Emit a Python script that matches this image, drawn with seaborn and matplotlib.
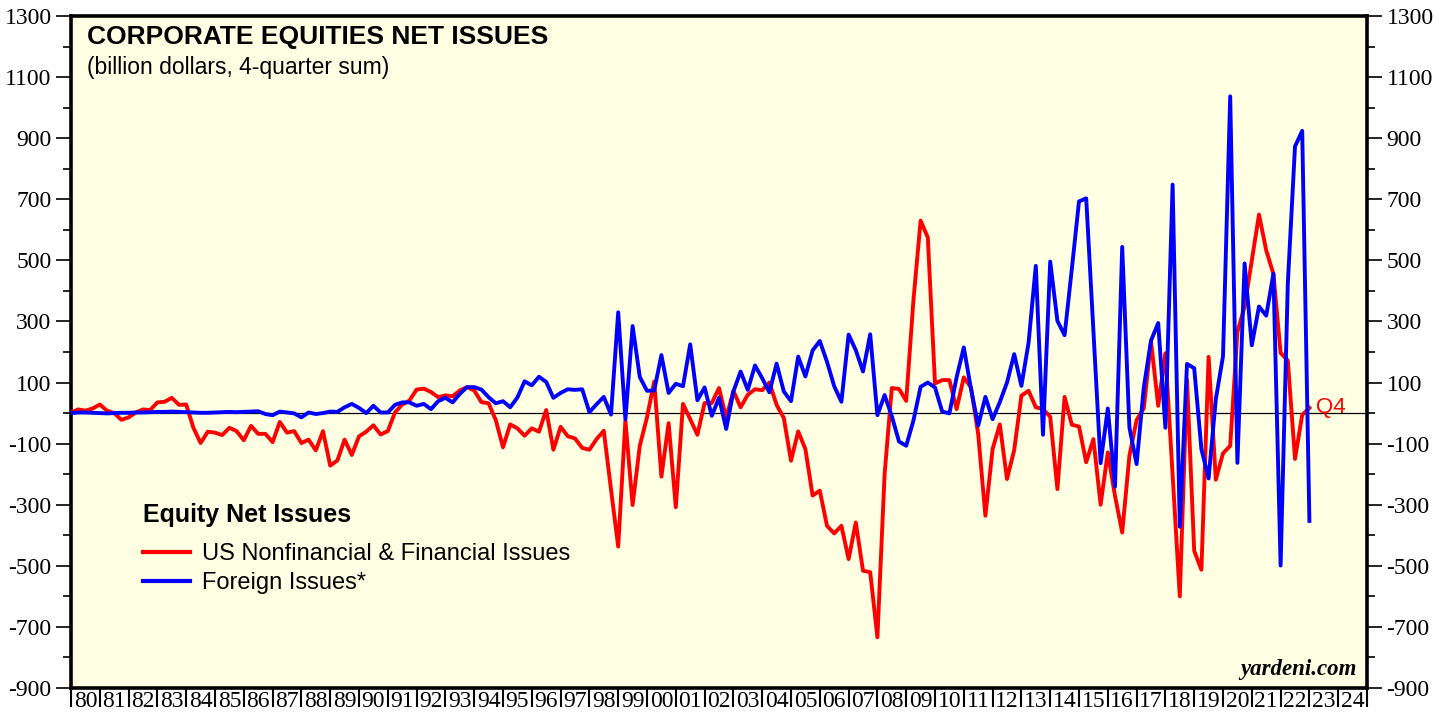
import matplotlib
matplotlib.use('Agg')
import matplotlib.pyplot as plt
import numpy as np
import pandas as pd
import seaborn as sns
from matplotlib.lines import Line2D
from matplotlib.ticker import MultipleLocator, FixedLocator, NullFormatter

plt.rcParams['figure.dpi'] = 100
plt.rcParams['savefig.dpi'] = 100
plt.rcParams['axes.unicode_minus'] = False

# quarterly, 1979Q4 .. 2022Q4, billion dollars, 4-quarter sum
us_issues = [
    2, 12, 8, 15, 28, 8, 0, -22, -14, 2, 12, 10, 35, 37, 50, 27, 28, -48, -98, -61,
    -64, -72, -48, -59, -89, -42, -68, -68, -95, -29, -64, -59, -98, -87, -122, -59, -172, -155, -87, -137,
    -76, -61, -40, -70, -59, 2, 28, 41, 77, 80, 69, 52, 58, 55, 74, 85, 74, 36, 32, -23,
    -112, -37, -50, -74, -50, -61, 10, -120, -45, -76, -83, -114, -120, -85, -58, -250, -437, -25, -301, -107,
    -14, 103, -208, -33, -308, 30, -20, -71, 33, 33, 82, -17, 73, 19, 60, 78, 75, 100, 27, -16,
    -156, -60, -118, -270, -254, -369, -394, -369, -478, -358, -516, -521, -734, -200, 82, 79, 40, 368, 630, 575,
    97, 108, 108, 13, 117, 84, -69, -336, -118, -37, -216, -121, 57, 73, 19, 13, -12, -249, 53, -38,
    -44, -161, -85, -300, -129, -271, -391, -140, -23, 16, 235, 24, 196, -200, -600, 109, -451, -513, 184, -218,
    -132, -107, 265, 349, 500, 650, 533, 456, 197, 172, -150, -6, 17,
]
foreign_issues = [
    0, 2, 2, 1, 0, -1, 0, 1, 1, 2, 2, 3, 4, 4, 5, 4, 3, 2, 1, 1,
    2, 3, 4, 3, 4, 5, 6, -3, -7, 5, 2, -1, -14, 2, -3, 0, 5, 4, 19, 30,
    17, 0, 24, 2, 2, 27, 35, 35, 24, 30, 13, 39, 50, 35, 63, 85, 85, 77, 52, 32,
    39, 19, 51, 104, 91, 119, 102, 50, 66, 78, 76, 78, 3, 29, 53, -5, 330, -20, 285, 118,
    73, 74, 190, 66, 96, 88, 225, 42, 84, -9, 50, -52, 71, 136, 76, 156, 114, 68, 162, 71,
    39, 185, 120, 205, 236, 168, 88, 37, 257, 206, 136, 258, -7, 59, -10, -93, -107, -25, 86, 100,
    84, 5, -1, 117, 215, 79, -41, 53, -20, 36, 100, 193, 89, 231, 482, -71, 496, 302, 255, 471,
    693, 703, 270, -164, 15, -241, 544, -47, -167, 84, 237, 295, -48, 748, -372, 161, 147, -118, -214, 45,
    186, 1037, -163, 490, 222, 349, 319, 456, -499, 423, 873, 924, -353,
]
series_names = ['US Nonfinancial & Financial Issues', 'Foreign Issues*']
series_colors = ['#ff0000', '#0000ff']

quarters = pd.period_range('1979Q4', '2022Q4', freq='Q')
date = quarters.year + quarters.quarter / 4.0

df = pd.concat([
    pd.DataFrame({'date': date, 'value': us_issues, 'series': series_names[0]}),
    pd.DataFrame({'date': date, 'value': foreign_issues, 'series': series_names[1]}),
])

fig = plt.figure(figsize=(14.48, 7.19))
ax = fig.add_axes([71 / 1448, 1 - 688 / 719, 1296 / 1448, 672 / 719])
ax.set_facecolor('#ffffe3')

ax.axhline(0, color='black', lw=0.9, zorder=1)
sns.lineplot(data=df, x='date', y='value', hue='series', hue_order=series_names,
             palette=dict(zip(series_names, series_colors)), linewidth=2.8,
             legend=False, ax=ax, zorder=3)

ax.set_xlim(1980, 2025)
ax.set_ylim(-900, 1300)
ax.set_xlabel('')
ax.set_ylabel('')

serif = 'Liberation Serif'
sans = 'Liberation Sans'
# y axis, both sides
ax.yaxis.set_major_locator(FixedLocator(np.arange(-900, 1301, 200)))
ax.yaxis.set_minor_locator(MultipleLocator(100))
ax.tick_params(axis='y', which='both', left=True, right=True, labelleft=True, labelright=True,
               direction='out', width=1.2, color='black')
ax.tick_params(axis='y', which='major', length=11, pad=3, labelsize=17)
ax.tick_params(axis='y', which='minor', length=6)
for lab in ax.get_yticklabels():
    lab.set_fontfamily(serif)

# x axis: ticks at years, labels centred between them
years = np.arange(1980, 2026)
ax.xaxis.set_major_locator(FixedLocator(years))
ax.xaxis.set_major_formatter(NullFormatter())
ax.xaxis.set_minor_locator(FixedLocator(years[:-1] + 0.5))
ax.set_xticklabels([f'{y % 100:02d}' for y in years[:-1]], minor=True)
ax.tick_params(axis='x', which='major', direction='out', length=14, width=1.5, color='black')
ax.tick_params(axis='x', which='minor', length=0, pad=2, labelsize=17)
for lab in ax.get_xticklabels(minor=True):
    lab.set_fontfamily(serif)

for sp in ax.spines.values():
    sp.set_linewidth(2.6)
    sp.set_color('black')

ax.text(0.012, 0.987, 'CORPORATE EQUITIES NET ISSUES', transform=ax.transAxes,
        ha='left', va='top', fontsize=19, fontweight='bold', family=sans)
ax.text(0.012, 0.94, '(billion dollars, 4-quarter sum)', transform=ax.transAxes,
        ha='left', va='top', fontsize=16.5, family=sans)
ax.text(0.992, 0.012, 'yardeni.com', transform=ax.transAxes, ha='right', va='bottom',
        fontsize=16.5, fontweight='bold', fontstyle='italic', family=serif)

ax.annotate('Q4', xy=(date[-1], us_issues[-1]), xytext=(5, 0), textcoords='offset points',
            color='#ff0000', fontsize=16, family=sans, va='center', ha='left')

# legend: bold heading plus two line entries
ax.text(0.0556, 0.2574, 'Equity Net Issues', transform=ax.transAxes, ha='left', va='center',
        fontsize=18, fontweight='bold', family=sans)
handles = [Line2D([], [], color=c, lw=3) for c in series_colors]
ax.legend(handles, series_names, loc='upper left', bbox_to_anchor=(0.0556, 0.216),
          frameon=False, borderpad=0, borderaxespad=0, handlelength=2.0,
          handletextpad=0.5, labelspacing=0.32, prop={'family': sans, 'size': 17})

fig.savefig('out.png', facecolor='white')
